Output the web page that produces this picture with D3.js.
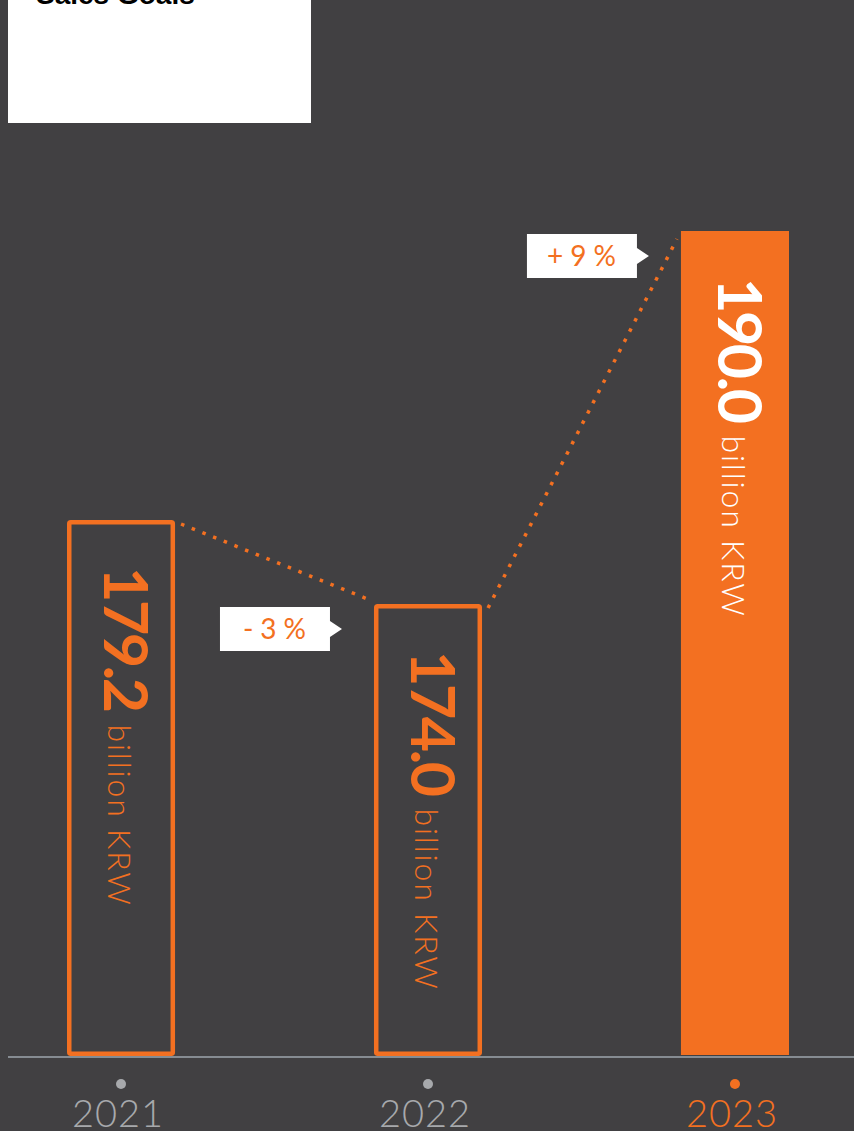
<!DOCTYPE html>
<html>
<head>
<meta charset="utf-8">
<script src="https://cdn.jsdelivr.net/npm/d3@7"></script>
<style>
  html, body { margin: 0; padding: 0; background: #414042; }
  svg { display: block; }
</style>
</head>
<body>
<svg id="chart"></svg>
<script>
const years = ["2021", "2022", "2023"]
const values = [179.2, 174.0, 190.0]
const changes = ["-3%", "+9%"]
const highlightYear = "2023"
const title = "Sales Goals"
const unit = "billion KRW"

const chart = { width: 854, height: 1131 }
const orange = "#f37021"
const grey = "#a7a9ac"

const svg = d3.select("#chart")
    .attr("width", chart.width)
    .attr("height", chart.height)

// bars are not to a zero scale in the original, so a polylinear scale is used
const y = d3.scaleLinear()
    .domain([150, 174, 179.2, 190])
    .range([1056, 604, 520, 231])

const x = d3.scaleBand()
    .domain(years)
    .range([67, 789])
    .paddingInner(0.648)
    .paddingOuter(0)

const data = years.map((d, i) => ({ year: d, value: values[i] }))

// title box
svg.append("rect")
    .attr("x", 8).attr("y", -10)
    .attr("width", 303).attr("height", 133)
    .attr("fill", "#fff")
svg.append("text")
    .attr("x", 36).attr("y", 4)
    .attr("font-family", "Liberation Sans, Arial, sans-serif")
    .attr("font-weight", 700)
    .attr("font-size", 28)
    .attr("fill", "#000")
    .text(title)

// baseline
svg.append("line")
    .attr("x1", 8).attr("x2", chart.width)
    .attr("y1", y.range()[0] + 1).attr("y2", y.range()[0] + 1)
    .attr("stroke", "#868c92")
    .attr("stroke-width", 2)

// bars
svg.selectAll(".bar")
    .data(data)
    .enter()
    .append("rect")
    .attr("class", "bar")
    .each(function (d) {
        const r = d3.select(this)
        const top = y(d.value)
        const bottom = y(150)
        if (d.year === highlightYear) {
            r.attr("x", x(d.year)).attr("y", top)
                .attr("width", x.bandwidth()).attr("height", bottom - top - 1)
                .attr("fill", orange)
        } else {
            r.attr("x", x(d.year) + 2.25).attr("y", top + 2.25)
                .attr("width", x.bandwidth() - 4.5).attr("height", bottom - top - 4.5)
                .attr("fill", "none")
                .attr("stroke", orange)
                .attr("stroke-width", 4.5)
                .attr("rx", 1.5)
        }
    })

// dotted connectors
for (let i = 0; i < data.length - 1; i++) {
    const a = data[i], b = data[i + 1]
    svg.append("line")
        .attr("x1", x(a.year) + x.bandwidth() + 6).attr("y1", y(a.value) + 4)
        .attr("x2", x(b.year) - 4).attr("y2", y(b.value) + (b.value > a.value ? 8 : -4))
        .attr("stroke", orange)
        .attr("stroke-width", 3.5)
        .attr("stroke-dasharray", "3.5 8")
}

// change callouts
changes.forEach((c, i) => {
    const b = data[i + 1]
    const right = x(b.year) - 44
    const cy = y(b.value) + 25
    const w = 110, h = 44
    svg.append("path")
        .attr("d", `M${right - w},${cy - h / 2}H${right}V${cy - 8}L${right + 12},${cy}L${right},${cy + 8}V${cy + h / 2}H${right - w}Z`)
        .attr("fill", "#fff")
    svg.append("text")
        .attr("x", right - w / 2 + 3).attr("y", cy + 10)
        .attr("text-anchor", "middle")
        .attr("font-family", "Lato, sans-serif")
        .attr("font-size", 28)
        .attr("letter-spacing", 7)
        .attr("fill", orange)
        .text(c)
})

// value labels, rotated
data.forEach(d => {
    const cx = x(d.year) + x.bandwidth() / 2
    const col = d.year === highlightYear ? "#fff" : orange
    const g = svg.append("g")
        .attr("transform", `translate(${cx},${y(d.value) + 47}) rotate(90)`)
    const num = g.append("text")
        .attr("x", 0).attr("y", 17)
        .attr("font-family", "Lato, sans-serif")
        .attr("font-weight", 700)
        .attr("font-size", 61)
        .attr("letter-spacing", -2.5)
        .attr("fill", col)
        .text(d3.format(".1f")(d.value))
    const len = num.node().getComputedTextLength()
    g.append("text")
        .attr("x", len + 14).attr("y", 13)
        .attr("font-family", "Lato, sans-serif")
        .attr("font-weight", 300)
        .attr("font-size", 32)
        .attr("letter-spacing", 1.8)
        .attr("fill", col)
        .text(unit)
})

// year dots and labels
svg.selectAll(".dot")
    .data(data)
    .enter()
    .append("circle")
    .attr("class", "dot")
    .attr("cx", d => x(d.year) + x.bandwidth() / 2)
    .attr("cy", 1084)
    .attr("r", 5)
    .attr("fill", d => d.year === highlightYear ? orange : grey)

svg.selectAll(".year")
    .data(data)
    .enter()
    .append("text")
    .attr("class", "year")
    .attr("x", d => x(d.year) + x.bandwidth() / 2 - 3)
    .attr("y", 1127)
    .attr("text-anchor", "middle")
    .attr("font-family", "Lato, sans-serif")
    .attr("font-weight", 300)
    .attr("font-size", 38)
    .attr("letter-spacing", 1)
    .attr("fill", d => d.year === highlightYear ? orange : grey)
    .text(d => d.year)
</script>
</body>
</html>
